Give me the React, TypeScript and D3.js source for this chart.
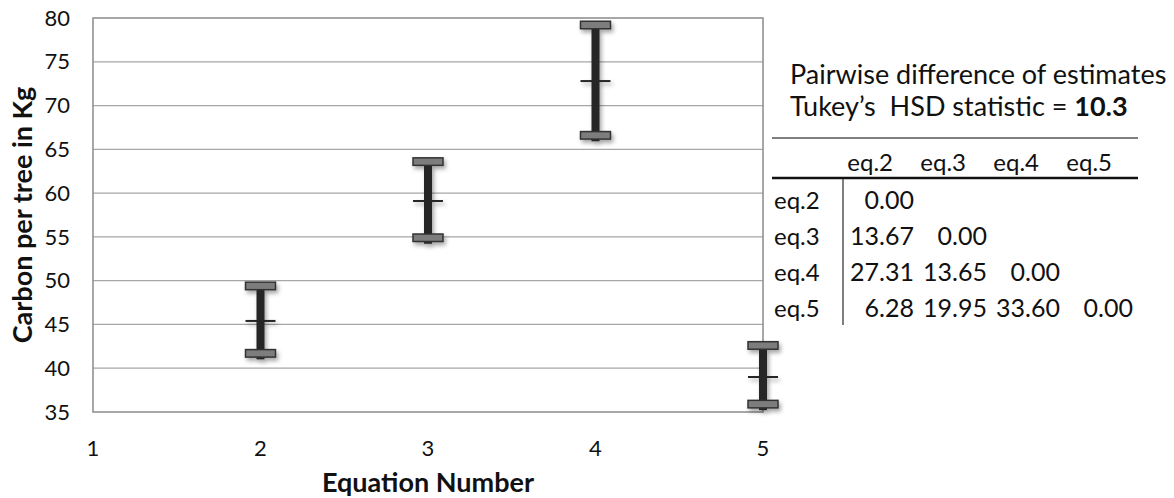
import React from 'react';
import * as d3 from 'd3';

// equation means with upper / lower limits (Kg carbon per tree)
const equations = [2, 3, 4, 5];
const upper = [49.4, 63.6, 79.2, 42.6];
const means = [45.4, 59.1, 72.8, 39.0];
const lower = [41.7, 54.9, 66.6, 35.9];

const xTicks = [1, 2, 3, 4, 5];
const yTicks = [35, 40, 45, 50, 55, 60, 65, 70, 75, 80];

// Tukey pairwise table
const tableCols = ['eq.2', 'eq.3', 'eq.4', 'eq.5'];
const tableRows = ['eq.2', 'eq.3', 'eq.4', 'eq.5'];
const diffs = [
  [0.0],
  [13.67, 0.0],
  [27.31, 13.65, 0.0],
  [6.28, 19.95, 33.6, 0.0],
];
const hsd = 10.3;

const W = 1174;
const H = 498;
const font = 'Lato, "Open Sans", sans-serif';

export default function App() {
  const x = d3.scaleLinear().domain([1, 5]).range([93, 763]);
  const y = d3.scaleLinear().domain([35, 80]).range([412, 18]);

  const colRight = d3.scaleLinear().domain([0, 3]).range([914, 1133]);
  const rowY = d3.scaleLinear().domain([0, 3]).range([209, 317]);

  const capW = 30;
  const capH = 7.5;

  return (
    <svg width={W} height={H} style={{ position: 'absolute', left: 0, top: 0 }} fontFamily={font}>
      <defs>
        <filter id="shadow" x="-50%" y="-50%" width="200%" height="200%">
          <feDropShadow dx="2" dy="3" stdDeviation="2" floodColor="#000" floodOpacity="0.35" />
        </filter>
      </defs>
      <rect width={W} height={H} fill="#fff" />

      {/* grid */}
      {yTicks.slice(1, -1).map(t => (
        <line key={t} x1={x(1)} x2={x(5)} y1={y(t)} y2={y(t)} stroke="#a6a6a6" strokeWidth={1.2} />
      ))}
      <rect x={x(1)} y={y(80)} width={x(5) - x(1)} height={y(35) - y(80)}
        fill="none" stroke="#8a8a8a" strokeWidth={1.5} />

      {/* y ticks */}
      {yTicks.map(t => (
        <text key={t} x={70} y={y(t)} dy="0.35em" textAnchor="end" fontSize={22} fill="#111">{t}</text>
      ))}
      {/* x ticks */}
      {xTicks.map(t => (
        <text key={t} x={x(t)} y={448} dy="0.35em" textAnchor="middle" fontSize={22} fill="#111">{t}</text>
      ))}

      <text transform={`translate(23,${(y(35) + y(80)) / 2}) rotate(-90)`} textAnchor="middle" dy="0.35em"
        fontSize={27} fontWeight="bold" fill="#111">Carbon per tree in Kg</text>
      <text x={x(3)} y={483} dy="0.35em" textAnchor="middle" fontSize={27} fontWeight="bold" fill="#111">
        Equation Number
      </text>

      {/* error bars */}
      {equations.map((e, i) => {
        const cx = x(e);
        return (
          <g key={e} filter="url(#shadow)">
            <line x1={cx} x2={cx} y1={y(upper[i])} y2={y(lower[i]) + 6} stroke="#262626" strokeWidth={8} />
            <line x1={cx - capW / 2} x2={cx + capW / 2} y1={y(means[i])} y2={y(means[i])} stroke="#262626" strokeWidth={2} />
            <rect x={cx - capW / 2} y={y(upper[i]) - capH / 2} width={capW} height={capH}
              fill="#7d7d7d" stroke="#333" strokeWidth={1.5} />
            <rect x={cx - capW / 2} y={y(lower[i]) - capH / 2} width={capW} height={capH}
              fill="#7d7d7d" stroke="#333" strokeWidth={1.5} />
          </g>
        );
      })}

      {/* table */}
      <text x={790} y={84} fontSize={27} fill="#111">Pairwise difference of estimates</text>
      <text x={790} y={116} fontSize={27} fill="#111" xmlSpace="preserve">
        Tukey’s  HSD statistic = <tspan fontWeight="bold">{hsd.toFixed(1)}</tspan>
      </text>
      <line x1={772} x2={1138} y1={138} y2={138} stroke="#555" strokeWidth={1.5} />
      {tableCols.map((c, j) => (
        <text key={c} x={colRight(j) - 21} y={171} textAnchor="end" fontSize={24} fill="#111">{c}</text>
      ))}
      <line x1={772} x2={1138} y1={178} y2={178} stroke="#111" strokeWidth={2.5} />
      <line x1={843} x2={843} y1={179} y2={325} stroke="#555" strokeWidth={1.5} />
      {tableRows.map((r, i) => (
        <g key={r}>
          <text x={774} y={rowY(i)} fontSize={24} fill="#111">{r}</text>
          {diffs[i].map((v, j) => (
            <text key={j} x={colRight(j)} y={rowY(i)} textAnchor="end" fontSize={25} fill="#111">
              {v.toFixed(2)}
            </text>
          ))}
        </g>
      ))}
    </svg>
  );
}
